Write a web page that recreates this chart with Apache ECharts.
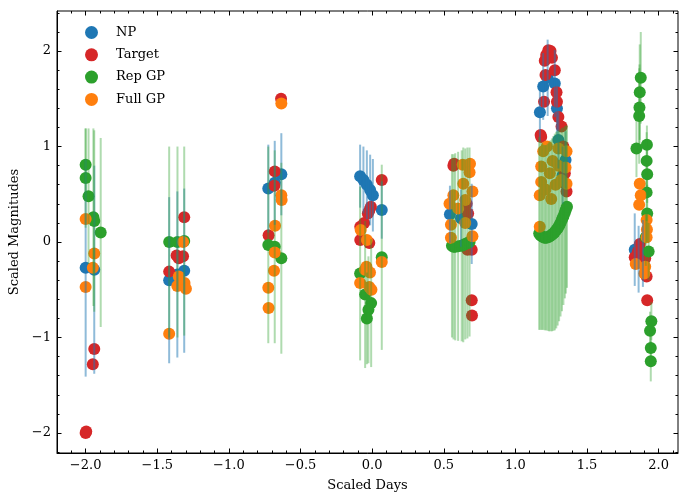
<!DOCTYPE html>
<html>
<head>
<meta charset="utf-8">
<script src="https://cdn.jsdelivr.net/npm/echarts@6/dist/echarts.min.js"></script>
<style>html,body{margin:0;padding:0;background:#fff}#c{width:680px;height:492px}</style>
</head>
<body>
<div id="c"></div>
<script>
// ---- NP (blue) with errors ----
const npX   = [-2.0,-1.94, -1.417,-1.36,-1.312, -0.725,-0.68,-0.634, -0.084,-0.061,-0.037,-0.014,0.005,0.067, 0.543,0.62,0.695, 1.171,1.194,1.225,1.275,1.29,1.30,1.33,1.35, 1.833,1.86,1.89];
const npY   = [-0.27,-0.29, -0.40,-0.34,-0.30, 0.56,0.62,0.71, 0.69,0.65,0.60,0.545,0.49,0.335, 0.29,0.25,0.19, 1.36,1.63,1.72,1.66,1.40,1.07,0.70,0.86, -0.08,-0.18,-0.12];
const npErr = [1.14,1.09, 0.87,0.87,0.86, 0.46,0.44,0.43, 0.33,0.35,0.36,0.37,0.38,0.30, 0.30,0.30,0.42, 0.30,0.35,0.40,0.35,0.30,0.30,0.30,0.30, 0.38,0.35,0.35];

// ---- Target (red) ----
const tgX = [-2.0,-1.996,-1.94,-1.95, -1.312,-1.365,-1.32,-1.35,-1.417, -0.636,-0.68,-0.683,-0.723,
  0.067,-0.009,-0.02,-0.03,-0.056,-0.083,-0.083,-0.02,
  0.572,0.567,0.66,0.67,0.665,0.695,0.695,0.697,
  1.205,1.215,1.23,1.245,1.255,1.21,1.20,1.176,1.18,1.275,1.287,1.29,1.30,1.322,1.335,1.345,1.357,1.34,
  1.868,1.855,1.833,1.906,1.916,1.92,1.87];
const tgY = [-2.0,-1.985,-1.12,-1.28, 0.26,-0.14,-0.15,-0.17,-0.31, 1.50,0.74,0.59,0.07,
  0.65,0.37,0.33,0.30,0.20,0.16,0.02,-0.01,
  0.82,0.80,0.40,0.30,-0.08,-0.08,-0.61,-0.77,
  1.90,1.96,2.01,2.00,1.93,1.75,1.47,1.12,1.10,1.80,1.57,1.47,1.31,1.21,1.00,0.72,0.53,0.62,
  -0.02,-0.10,-0.16,-0.17,-0.36,-0.61,-0.08];

// ---- Rep GP (green) with errors ----
const repX = [-2.0,-2.0,-1.98,-1.946,-1.94,-1.895, -1.417,-1.359,-1.312, -0.725,-0.68,-0.634,
  0.067,-0.084,-0.049,-0.007,-0.026,-0.037,
  0.557,0.568,0.58,0.60,0.625,0.636,0.65,0.665,0.68,
  1.166,1.175,1.185,1.195,1.205,1.215,1.225,1.235,1.245,1.255,1.265,1.275,1.285,1.295,1.305,1.315,1.325,1.335,1.345,1.352,1.36,
  1.875,1.868,1.866,1.864,1.845,1.918,1.916,1.92,1.916,1.92,1.91,1.93,1.949,1.94,1.945,1.945];
const repY = [0.81,0.67,0.48,0.26,0.22,0.10, 0.0,0.0,0.01, -0.03,-0.05,-0.17,
  -0.16,-0.33,-0.55,-0.64,-0.71,-0.80,
  -0.04,-0.05,-0.05,-0.045,-0.04,-0.03,-0.02,-0.01,0.0,
  0.09,0.07,0.06,0.05,0.045,0.045,0.05,0.055,0.065,0.075,0.09,0.105,0.125,0.145,0.17,0.20,0.235,0.27,0.31,0.34,0.37,
  1.72,1.57,1.41,1.32,0.98,1.02,0.85,0.71,0.52,0.30,0.05,-0.10,-0.83,-0.93,-1.11,-1.25];
const repErr = [0.38,0.52,0.71,0.93,0.95,0.99, 1.0,1.0,0.99, 1.03,1.01,1.0,
  0.97,0.91,0.77,0.67,0.56,0.48,
  0.96,0.97,0.98,0.99,1.0,1.02,1.0,1.0,0.99,
  1.01,0.99,0.98,0.97,0.97,0.97,0.98,0.99,1.0,1.01,1.02,1.03,1.03,1.02,1.0,0.98,0.96,0.93,0.9,0.88,0.85,
  0.48,0.5,0.45,0.5,0.3,0.2,0.3,0.3,0.3,0.3,0.3,0.3,0.2,0.2,0.2,0.21];

// ---- Full GP (orange) ----
const fullX = [-2.0,-1.94,-1.95,-2.0, -1.32,-1.35,-1.36,-1.31,-1.30,-1.417,
  -0.634,-0.634,-0.632,-0.678,-0.68,-0.685,-0.725,-0.723,
  -0.08,-0.037,0.067,-0.05,-0.084,-0.02,-0.005,-0.04,-0.015,
  0.632,0.683,0.68,0.636,0.70,0.567,0.54,0.65,0.55,0.70,0.55,0.65,0.60,
  1.194,1.18,1.18,1.17,1.17,1.357,1.357,1.35,1.22,1.26,1.30,1.28,1.32,1.24,1.30,1.21,1.25,
  1.868,1.875,1.864,1.916,1.918,1.916,1.84,1.906,1.90];
const fullY = [0.24,-0.12,-0.27,-0.47, 0.0,-0.36,-0.46,-0.43,-0.49,-0.96,
  1.45,0.49,0.44,0.17,-0.11,-0.30,-0.48,-0.69,
  0.125,0.02,-0.21,-0.29,-0.43,-0.47,-0.50,-0.26,-0.32,
  0.81,0.82,0.73,0.61,0.53,0.49,0.40,0.44,0.18,0.06,0.045,0.20,0.35,
  0.95,0.79,0.63,0.49,0.16,0.95,0.61,0.78,1.0,0.85,0.80,0.60,0.65,0.72,0.98,0.55,0.45,
  0.61,0.49,0.39,0.23,0.13,0.05,-0.23,-0.26,-0.33];

const xMajor = [-2.0,-1.5,-1.0,-0.5,0.0,0.5,1.0,1.5,2.0];
const yMajor = [-2,-1,0,1,2];

function range(a, b, s) { const r = []; for (let i = 0; a + i*s <= b + 1e-9; i++) r.push(+(a + i*s).toFixed(3)); return r; }
const xMinor = range(-2.2, 2.1, 0.1);
const yMinor = range(-2.2, 2.4, 0.2);

const zip3 = (a,b,c) => a.map((v,i) => c ? [v,b[i],c[i]] : [v,b[i]]);
const FONT = 'DejaVu Serif';
const fmt = v => (Math.abs(v) < 1e-9 ? '0' : String(v)).replace('-', '\u2212');
const fmtX = v => (Math.abs(v) < 1e-9 ? '0.0' : v.toFixed(1)).replace('-', '\u2212');

const XMIN = -2.2, XMAX = 2.135, YMIN = -2.21, YMAX = 2.42;

function xAx(pos, vals, len, labels, extra) {
  return Object.assign({
    type: 'value', position: pos, min: XMIN, max: XMAX, gridIndex: 0,
    axisLine: { show: labels, onZero: false, lineStyle: { color: '#000', width: 1 } },
    axisTick: { show: true, inside: true, length: len, customValues: vals, lineStyle: { color: '#000', width: 1 } },
    axisLabel: { show: labels, customValues: vals, formatter: fmtX, color: '#000', fontFamily: FONT, fontSize: 13, margin: 6 },
    splitLine: { show: false }
  }, extra || {});
}
function yAx(pos, vals, len, labels, extra) {
  return Object.assign({
    type: 'value', position: pos, min: YMIN, max: YMAX, gridIndex: 0,
    axisLine: { show: labels, onZero: false, lineStyle: { color: '#000', width: 1 } },
    axisTick: { show: true, inside: true, length: len, customValues: vals, lineStyle: { color: '#000', width: 1 } },
    axisLabel: { show: labels, customValues: vals, formatter: fmt, color: '#000', fontFamily: FONT, fontSize: 13, margin: 6 },
    splitLine: { show: false }
  }, extra || {});
}

function errSeries(name, data, color, opacity) {
  return {
    type: 'custom', name: name, xAxisIndex: 0, yAxisIndex: 0, z: 10, silent: true,
    data: data, encode: { x: 0, y: 1 },
    renderItem: (params, api) => {
      const x = api.value(0), y = api.value(1), e = api.value(2);
      const p1 = api.coord([x, y - e]), p2 = api.coord([x, y + e]);
      return { type: 'line', shape: { x1: p1[0], y1: p1[1], x2: p2[0], y2: p2[1] },
        style: { stroke: color, lineWidth: 2, opacity: opacity } };
    }
  };
}

const chart = echarts.init(document.getElementById('c'), null, { renderer: 'canvas' });
chart.setOption({
  animation: false,
  backgroundColor: '#fff',
  grid: { left: 57, right: 2, top: 11, bottom: 39, outerBoundsMode: 'none', containLabel: false,
    show: true, borderColor: '#000', borderWidth: 1, backgroundColor: 'transparent' },
  legend: {
    orient: 'vertical', left: 80, top: 21, itemWidth: 13, itemHeight: 13, itemGap: 9.3, icon: 'circle',
    data: ['NP', 'Target', 'Rep GP', 'Full GP'],
    textStyle: { fontFamily: FONT, fontSize: 13, color: '#000', padding: [0, 0, 0, 13] }
  },
  xAxis: [
    xAx('bottom', xMajor, 4.5, true, { name: 'Scaled Days', nameLocation: 'middle', nameGap: 26,
      nameTextStyle: { fontFamily: FONT, fontSize: 13, color: '#000' } }),
    xAx('bottom', xMinor, 2.5, false),
    xAx('top', xMajor, 4.5, false),
    xAx('top', xMinor, 2.5, false)
  ],
  yAxis: [
    yAx('left', yMajor, 4.5, true, { name: 'Scaled Magnitudes', nameLocation: 'middle', nameGap: 36, nameRotate: 90,
      nameTextStyle: { fontFamily: FONT, fontSize: 13, color: '#000' } }),
    yAx('left', yMinor, 2.5, false),
    yAx('right', yMajor, 4.5, false),
    yAx('right', yMinor, 2.5, false)
  ],
  series: [
    { type: 'scatter', name: 'NP', data: zip3(npX, npY), symbolSize: 12, itemStyle: { color: '#1f77b4', opacity: 1 }, z: 2 },
    { type: 'scatter', name: 'Target', data: zip3(tgX, tgY), symbolSize: 12, itemStyle: { color: '#d62728', opacity: 1 }, z: 3 },
    { type: 'scatter', name: 'Rep GP', data: zip3(repX, repY), symbolSize: 12, itemStyle: { color: '#2ca02c', opacity: 1 }, z: 4 },
    { type: 'scatter', name: 'Full GP', data: zip3(fullX, fullY), symbolSize: 12, itemStyle: { color: '#ff7f0e', opacity: 1 }, z: 5 },
    errSeries('npErr', zip3(npX, npY, npErr), '#1f77b4', 0.5),
    errSeries('repErr', zip3(repX, repY, repErr), '#2ca02c', 0.38)
  ]
});
</script>
</body>
</html>
